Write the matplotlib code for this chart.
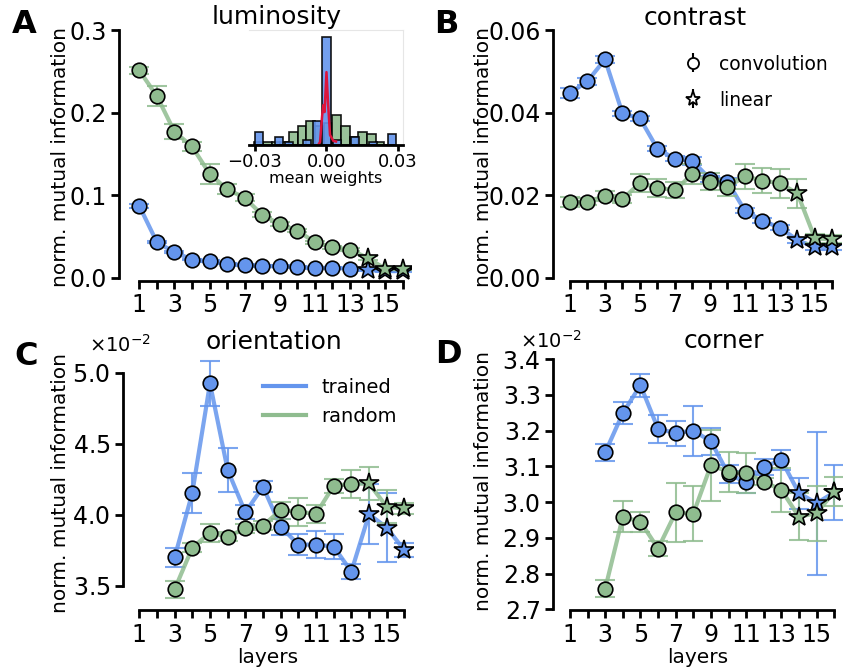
import numpy as np
import matplotlib
matplotlib.use('Agg')
import matplotlib.pyplot as plt

W, H = 843, 670
BLUE = '#6495ED'
GREEN = '#8FBC8F'

layers = np.arange(1, 17)
layers_late = np.arange(3, 17)
last_conv = 13  # layers 14-16 are linear

# luminosity
lum_trained = [0.087, 0.043, 0.031, 0.022, 0.020, 0.017, 0.015, 0.014,
               0.014, 0.013, 0.012, 0.012, 0.011, 0.0093, 0.008, 0.008]
lum_trained_err = [0.002, 0.001, 0.001, 0.001, 0.001, 0.001, 0.001, 0.001,
                   0.001, 0.001, 0.001, 0.001, 0.001, 0.001, 0.001, 0.001]
lum_random = [0.251, 0.220, 0.177, 0.159, 0.126, 0.107, 0.097, 0.076,
              0.065, 0.057, 0.043, 0.037, 0.034, 0.024, 0.011, 0.010]
lum_random_err = [0.004, 0.012, 0.009, 0.005, 0.012, 0.006, 0.004, 0.003,
                  0.002, 0.002, 0.002, 0.002, 0.002, 0.002, 0.001, 0.001]

# contrast
con_trained = [0.0447, 0.0476, 0.0529, 0.0398, 0.0386, 0.0312, 0.0288, 0.0283,
               0.0239, 0.0233, 0.0162, 0.0138, 0.0121, 0.0091, 0.0074, 0.0074]
con_trained_err = [0.0012, 0.0008, 0.0008, 0.0006, 0.0006, 0.0006, 0.0006, 0.0010,
                   0.0008, 0.0008, 0.0006, 0.0006, 0.0006, 0.0006, 0.0006, 0.0006]
con_random = [0.0184, 0.0184, 0.0198, 0.0190, 0.0230, 0.0218, 0.0212, 0.0251,
              0.0233, 0.0219, 0.0246, 0.0235, 0.0229, 0.0204, 0.0095, 0.0093]
con_random_err = [0.0012, 0.0008, 0.0012, 0.0010, 0.0022, 0.0022, 0.0020, 0.0025,
                  0.0020, 0.0020, 0.0030, 0.0030, 0.0035, 0.0035, 0.0010, 0.0010]

# orientation (layers 3-16)
ori_trained = [0.03700, 0.04155, 0.04925, 0.04315, 0.04017, 0.04197, 0.03916,
               0.03790, 0.03790, 0.03775, 0.03600, 0.04003, 0.03910, 0.03750]
ori_trained_err = [0.00065, 0.0014, 0.0016, 0.00157, 0.0005, 0.0004, 0.00056,
                   0.00076, 0.00094, 0.00088, 0.00055, 0.0021, 0.00245, 0.0005]
ori_random = [0.03475, 0.03768, 0.03873, 0.03845, 0.03904, 0.03923, 0.04033,
              0.04021, 0.04005, 0.04204, 0.04216, 0.04220, 0.04056, 0.04045]
ori_random_err = [0.0006, 0.0003, 0.00065, 0.0003, 0.0003, 0.0003, 0.0006,
                  0.0010, 0.0006, 0.0005, 0.0010, 0.00117, 0.00117, 0.0004]

# corner (layers 3-16)
cor_trained = [0.03139, 0.03249, 0.03327, 0.03205, 0.03193, 0.03200, 0.03170,
               0.03078, 0.03056, 0.03098, 0.03118, 0.03025, 0.02997, 0.03027]
cor_trained_err = [0.00023, 0.00031, 0.00032, 0.0004, 0.00035, 0.0007, 0.00037,
                   0.00025, 0.0003, 0.00022, 0.00028, 0.00043, 0.0020, 0.00076]
cor_random = [0.02758, 0.02959, 0.02945, 0.02870, 0.02971, 0.02967, 0.03103,
              0.03085, 0.03081, 0.03057, 0.03034, 0.02959, 0.02969, 0.03029]
cor_random_err = [0.00023, 0.00044, 0.00028, 0.0002, 0.00083, 0.00077, 0.0010,
                  0.00056, 0.00055, 0.0001, 0.00062, 0.00066, 0.00077, 0.00041]

# inset: histogram of mean weights (counts) + red density line
hist_blue_centers = [-0.0283, -0.0199, -0.0157, -0.0082, -0.0040, 0.0,
                     0.0044, 0.0120, 0.0195, 0.0275]
hist_blue_counts = [5, 3, 1, 2, 9, 40, 2, 3, 1, 4]
hist_green_centers = [-0.0285, -0.0248, -0.0212, -0.0175, -0.0139, -0.0103,
                      -0.0066, -0.0030, 0.0006, 0.0043, 0.0079, 0.0115,
                      0.0152, 0.0188, 0.0225, 0.0261]
hist_green_counts = [1, 1, 1, 1, 5, 7, 9, 7, 8, 11, 7, 3, 5, 4, 1, 0]
red_x = [-0.0032, -0.0027, -0.0018, -0.0013, -0.0008, 0.0000, 0.0007,
         0.0015, 0.0029, 0.0040]
red_y = [0.4, 1.1, 11, 14.8, 12.2, 27, 14.8, 3.7, 1.5, 1.3]

plt.rcParams['font.family'] = 'DejaVu Sans'
fig = plt.figure(figsize=(W / 100, H / 100), dpi=100)


def px_axes(left, top, right, bottom):
    return fig.add_axes([left / W, 1 - bottom / H, (right - left) / W, (bottom - top) / H])


def style(ax, ybounds, yticks, ylab_xy):
    for s in ['top', 'right']:
        ax.spines[s].set_visible(False)
    for s in ['left', 'bottom']:
        ax.spines[s].set_linewidth(2)
    ax.spines['bottom'].set_bounds(1, 16)
    ax.spines['left'].set_bounds(*ybounds)
    ax.set_xticks(layers)
    ax.set_xticklabels([str(l) if l % 2 else '' for l in layers])
    ax.set_yticks(yticks)
    ax.tick_params(width=2, length=6, labelsize=17, pad=3)
    ax.set_ylabel('norm. mutual information', fontsize=14.5)
    ax.yaxis.set_label_coords(*ylab_xy)


def draw(ax, x, y, err, color, zo):
    x = np.asarray(x)
    y = np.asarray(y)
    ax.errorbar(x, y, yerr=err, color=color, lw=3, elinewidth=1.5,
                capsize=7, capthick=1.5, alpha=0.85, zorder=zo)
    conv = x <= last_conv
    ax.plot(x[conv], y[conv], 'o', ms=10.5, mfc=color, mec='k', mew=1.2, zorder=zo + 2)
    ax.plot(x[~conv], y[~conv], '*', ms=15, mfc=color, mec='k', mew=1.2, zorder=zo + 2)


# A
axA = px_axes(119, 25.9, 411.4, 281)
draw(axA, layers, lum_trained, lum_trained_err, BLUE, 1)
draw(axA, layers, lum_random, lum_random_err, GREEN, 2)
axA.set_xlim(-0.157, 16.5)
axA.set_ylim(-0.004, 0.305)
style(axA, (0, 0.3), [0, 0.1, 0.2, 0.3], (-0.168, 0.487))

# B
axB = px_axes(553.3, 25.9, 841.25, 281)
draw(axB, layers, con_trained, con_trained_err, BLUE, 1)
draw(axB, layers, con_random, con_random_err, GREEN, 2)
axB.set_xlim(0.046, 16.5)
axB.set_ylim(-0.0008, 0.061)
style(axB, (0, 0.06), [0, 0.02, 0.04, 0.06], (-0.209, 0.487))
hc = axB.errorbar([], [], yerr=[], fmt='o', ms=8, mfc='white', mec='k', mew=1.3,
                  color='k', elinewidth=1.5, capthick=1.5, capsize=5, label='convolution')
hl = axB.errorbar([], [], yerr=[], fmt='*', ms=11, mfc='white', mec='k', mew=1.3,
                  color='k', elinewidth=1.5, capthick=1.5, capsize=5, label='linear')
axB.legend(handles=[hc, hl], loc='upper right', frameon=False, fontsize=13.5,
           handlelength=1.2, handleheight=0.9, handletextpad=0.8, labelspacing=0.9,
           bbox_to_anchor=(1.013, 0.953))

# C
axC = px_axes(122.7, 355.7, 413.2, 610)
draw(axC, layers_late, ori_trained, ori_trained_err, BLUE, 1)
draw(axC, layers_late, ori_random, ori_random_err, GREEN, 2)
axC.set_xlim(0.06, 16.5)
axC.set_ylim(0.03329, 0.0512)
style(axC, (0.035, 0.05), [0.035, 0.04, 0.045, 0.05], (-0.181, 0.5))
axC.ticklabel_format(axis='y', style='sci', scilimits=(-2, -2), useMathText=True)
axC.yaxis.get_offset_text().set_fontsize(14)
axC.yaxis.get_offset_text().set_x(-0.115)
axC.set_xlabel('layers', fontsize=14.5)
axC.xaxis.set_label_coords(0.5, -0.1494)
lt, = axC.plot([], [], color=BLUE, lw=3, label='trained')
lr, = axC.plot([], [], color=GREEN, lw=3, label='random')
axC.legend(handles=[lt, lr], loc='upper right', frameon=False, fontsize=14,
           handlelength=2.2, labelspacing=0.55, bbox_to_anchor=(1.003, 0.983))

# D
axD = px_axes(552.7, 352, 843, 610)
draw(axD, layers_late, cor_trained, cor_trained_err, BLUE, 1)
draw(axD, layers_late, cor_random, cor_random_err, GREEN, 2)
axD.set_xlim(0.018, 16.5)
axD.set_ylim(0.02698, 0.0342)
style(axD, (0.027, 0.034), [0.027, 0.028, 0.029, 0.030, 0.031, 0.032, 0.033, 0.034],
      (-0.206, 0.5))
axD.ticklabel_format(axis='y', style='sci', scilimits=(-2, -2), useMathText=True)
axD.yaxis.get_offset_text().set_fontsize(14)
axD.yaxis.get_offset_text().set_x(-0.113)
axD.set_xlabel('layers', fontsize=14.5)
axD.xaxis.set_label_coords(0.5, -0.1473)

# inset in A
axI = px_axes(249, 30, 403, 145)
axI.bar(hist_green_centers, hist_green_counts, width=0.00364, color=GREEN,
        edgecolor='k', lw=1.2, alpha=0.9)
axI.bar(hist_blue_centers, hist_blue_counts, width=0.0034, color=BLUE,
        edgecolor='k', lw=1.2, alpha=0.9)
axI.plot(red_x, red_y, color='crimson', lw=1.8)
axI.set_xlim(-0.0325, 0.0321)
axI.set_ylim(0, 42.6)
axI.set_yticks([])
axI.set_xticks([-0.03, 0.0, 0.03])
axI.spines['left'].set_visible(False)
for s in ['top', 'right']:
    axI.spines[s].set_color('#e6e6e6')
    axI.spines[s].set_linewidth(0.8)
axI.spines['bottom'].set_linewidth(2)
axI.tick_params(width=2, length=4, labelsize=13, pad=2)
axI.set_xlabel('mean weights', fontsize=11.5, labelpad=0)

# titles and panel letters
fig.text(277 / W, 1 - 24 / H, 'luminosity', ha='center', va='baseline', fontsize=18)
fig.text(695.5 / W, 1 - 25 / H, 'contrast', ha='center', va='baseline', fontsize=18)
fig.text(274 / W, 1 - 349 / H, 'orientation', ha='center', va='baseline', fontsize=18)
fig.text(724 / W, 1 - 348 / H, 'corner', ha='center', va='baseline', fontsize=18)
for letter, x, y in [('A', 24.5, 33), ('B', 446, 33), ('C', 26, 365), ('D', 448, 363)]:
    fig.text(x / W, 1 - y / H, letter, ha='center', va='baseline', fontsize=23,
             fontweight='bold')

fig.savefig('out.png', dpi=100)
